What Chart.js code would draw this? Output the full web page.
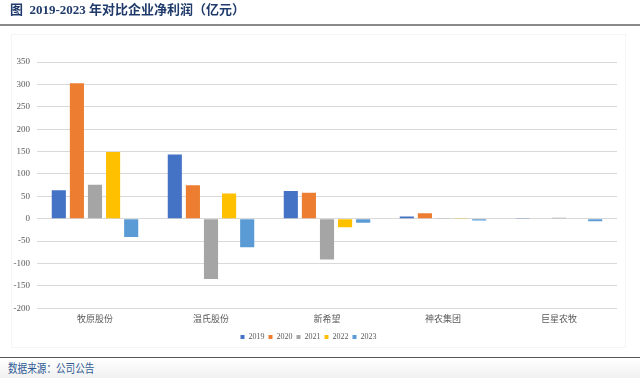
<!DOCTYPE html>
<html><head><meta charset="utf-8">
<script src="https://cdn.jsdelivr.net/npm/chart.js@4/dist/chart.umd.min.js"></script>
<style>
html,body{margin:0;padding:0;background:#fff;}
#wrap{position:relative;width:640px;height:378px;overflow:hidden;background:#fff;}
#title{position:absolute;left:10px;top:1px;font:bold 13px "Liberation Serif","Noto Sans CJK SC";color:#1f3a6b;white-space:pre;line-height:18px;}
#topline{position:absolute;left:0;top:24px;width:640px;height:2px;background:#8a8a8a;}
#box{position:absolute;left:11px;top:34px;width:615px;height:314px;border:1px solid #f5f5f5;box-sizing:border-box;}
#cv{position:absolute;left:0;top:0;}
#footer{position:absolute;left:0;top:357px;width:640px;height:21px;background:linear-gradient(#ffffff,#f0f0f0);border-top:1.5px solid #555;}
#src{position:absolute;left:8px;top:2px;font:12px "Noto Sans CJK SC";color:#2f5a94;white-space:nowrap;transform:scaleX(0.8);transform-origin:left top;line-height:16px;}
</style></head>
<body><div id="wrap">
<div id="box"></div>
<canvas id="cv" width="640" height="378"></canvas>
<div id="title">图  2019-2023 年对比企业净利润（亿元）</div>
<div id="topline"></div>
<div id="footer"><div id="src">数据来源：公司公告</div></div>
</div>
<script>
const categories = ["牧原股份","温氏股份","新希望","神农集团","巨星农牧"];
const years = ["2019","2020","2021","2022","2023"];
const v2019 = [63.5, 143.5, 62, 5, 0.3];
const v2020 = [302.7, 74.6, 58, 12, 1];
const v2021 = [76, -134.5, -91, 1.5, 2];
const v2022 = [149, 56, -19, 1.5, 1];
const v2023 = [-41, -63.7, -9, -4, -6];
const yTicks = [350,300,250,200,150,100,50,0,-50,-100,-150,-200];
const colors = ["#4472c4","#ed7d31","#a5a5a5","#ffc000","#5b9bd5"];
const series = [v2019,v2020,v2021,v2022,v2023];

new Chart(document.getElementById('cv'), {
  type: 'bar',
  data: {
    labels: categories,
    datasets: series.map((d,i)=>({label: years[i], data: d, backgroundColor: colors[i], borderWidth: 0,
      categoryPercentage: 0.78, barPercentage: 0.78}))
  },
  options: {
    responsive: false, animation: false,
    layout: {padding: {left: 0, right: 23, top: 62, bottom: 27}},
    plugins: {
      tooltip: {enabled: false},
      title: {display: false},
      legend: {position: 'bottom',
        labels: {boxWidth: 4, boxHeight: 4, padding: 4, color: '#595959',
          font: {family: '"Liberation Serif"', size: 8}}}
    },
    scales: {
      x: {
        grid: {display: false, drawTicks: false},
        border: {display: false},
        ticks: {color: '#595959', padding: 5, font: {family: '"Noto Sans CJK SC"', size: 9}}
      },
      y: {
        min: -200, max: 350,
        afterFit: s => { s.width = 37; },
        afterBuildTicks: s => { s.ticks = yTicks.map(v=>({value:v})); },
        grid: {color: '#d9d9d9', lineWidth: 1, drawTicks: false},
        border: {display: false},
        ticks: {color: '#595959', padding: 7, font: {family: '"Liberation Serif"', size: 9}}
      }
    }
  }
});
</script>
</body></html>
